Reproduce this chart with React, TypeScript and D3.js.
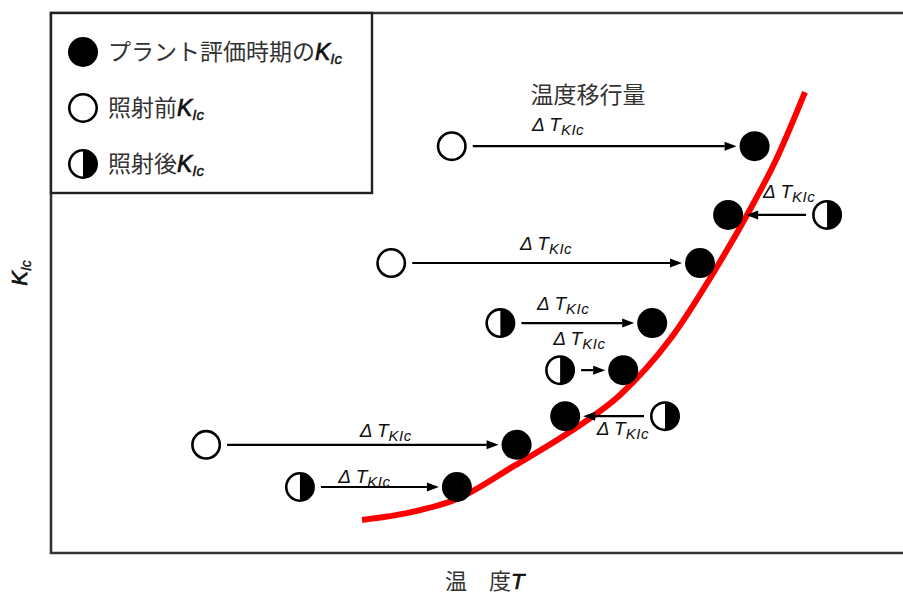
import React from "react";
import * as d3 from "d3";

const W = 903;
const H = 596;

// Schematic: temperature T (arbitrary 0-100) vs K_Ic (arbitrary 0-100)
const shiftK = [75.2, 62.5, 53.6, 42.5, 33.8, 25.3, 20.0, 12.2];
const startT = [47.1, 91.1, 40.0, 52.8, 59.8, 72.1, 18.3, 29.3];
const startType = ["open", "half", "open", "half", "half", "half", "open", "half"];
const endT = [82.6, 79.5, 76.2, 70.6, 67.2, 60.4, 54.7, 47.7];
// annotation anchors for the ΔT_KIc labels
const labelT = [56.5, 83.6, 55.1, 57.1, 59.0, 64.1, 36.3, 33.8];
const labelK = [78.0, 65.6, 56.0, 44.9, 38.4, 21.8, 21.4, 12.9];

// master curve
const curveT = [36.58, 42.2, 47.71, 54.51, 60.96, 66.82, 72.69, 78.08, 81.71, 84.99, 88.51];
const curveK = [6.1, 7.5, 10.0, 16.2, 22.4, 29.2, 39.5, 52.6, 62.48, 72.27, 85.21];

const legendLabels = ["プラント評価時期の", "照射前", "照射後"];
const legendTypes = ["filled", "open", "half"];

const CJK = "'Noto Sans CJK JP', 'Noto Sans', sans-serif";
const LAT = "'Liberation Sans', Arial, sans-serif";
const R = 15;

function Marker({ type, cx, cy }: { type: string; cx: number; cy: number }) {
  if (type === "filled") return <circle cx={cx} cy={cy} r={R} fill="#000" />;
  if (type === "open")
    return <circle cx={cx} cy={cy} r={R - 1.3} fill="#fff" stroke="#000" strokeWidth={2.6} />;
  const r = R - 1.3;
  return (
    <g>
      <circle cx={cx} cy={cy} r={r} fill="#fff" />
      <path d={`M${cx},${cy - r} A${r},${r} 0 0 1 ${cx},${cy + r} Z`} fill="#000" />
      <circle cx={cx} cy={cy} r={r} fill="none" stroke="#000" strokeWidth={2.6} />
    </g>
  );
}

function KIc({ size, sub }: { size: number; sub: number }) {
  return (
    <>
      <tspan fontFamily={LAT} fontStyle="italic" fontSize={size} fill="#111" stroke="#111" strokeWidth={0.7}>
        K
      </tspan>
      <tspan fontFamily={LAT} fontStyle="italic" fontSize={sub} dy={4} fill="#111" stroke="#111" strokeWidth={0.4}>
        Ic
      </tspan>
    </>
  );
}

export default function App() {
  const x = d3.scaleLinear().domain([0, 100]).range([50, 903]);
  const y = d3.scaleLinear().domain([0, 100]).range([553, 12]);

  const line = d3
    .line<number>()
    .x((_, i) => x(curveT[i]))
    .y((_, i) => y(curveK[i]))
    .curve(d3.curveMonotoneX);

  const x0 = x(0) + 1;
  const yTop = y(100) + 1;
  const yBot = y(0);

  return (
    <svg
      width={W}
      height={H}
      style={{ position: "absolute", left: 0, top: 0, background: "#fff" }}
    >
      {/* frame */}
      <path
        d={`M${W + 2},${yTop} H${x0} V${yBot} H${W + 2}`}
        fill="none"
        stroke="#333"
        strokeWidth={2.6}
      />

      {/* red curve */}
      <path d={line(curveT) || ""} fill="none" stroke="#ff0000" strokeWidth={6} />

      {/* arrows and markers */}
      {shiftK.map((k, i) => {
        const cy = y(k);
        const xs = x(startT[i]);
        const xe = x(endT[i]);
        const dir = xe > xs ? 1 : -1;
        const lineStart = xs + dir * (R + 6);
        const tip = xe - dir * (R + 3);
        const headLen = 12;
        const base = tip - dir * headLen;
        return (
          <g key={i}>
            <line x1={lineStart} y1={cy} x2={base} y2={cy} stroke="#000" strokeWidth={2.2} />
            <path
              d={`M${tip},${cy} L${base},${cy - 4.5} L${base},${cy + 4.5} Z`}
              fill="#000"
            />
            <Marker type={startType[i]} cx={xs} cy={cy} />
            <Marker type="filled" cx={xe} cy={cy} />
            <text
              x={x(labelT[i])}
              y={y(labelK[i])}
              fontFamily={LAT}
              fontStyle="italic"
              fontSize={19}
              fill="#111"
            >
              Δ T
              <tspan fontSize={15} dy={4} letterSpacing={0.5}>
                KIc
              </tspan>
            </text>
          </g>
        );
      })}

      {/* 温度移行量 */}
      <text x={588} y={103} textAnchor="middle" fontFamily={CJK} fontSize={23} fill="#333">
        温度移行量
      </text>

      {/* legend */}
      <rect x={x0} y={yTop} width={372 - x0} height={193 - yTop} fill="#fff" stroke="#222" strokeWidth={2.4} />
      {legendLabels.map((lab, i) => {
        const cy = [52, 108, 164][i];
        return (
          <g key={lab}>
            <Marker type={legendTypes[i]} cx={83} cy={cy} />
            <text x={108} y={cy + 8} fontFamily={CJK} fontSize={23} fill="#333">
              {lab}
              <tspan dx={3} />
              <KIc size={23} sub={15} />
            </text>
          </g>
        );
      })}

      {/* y axis label */}
      <text
        transform="translate(27,273) rotate(-90)"
        textAnchor="middle"
        fontFamily={LAT}
      >
        <KIc size={22} sub={14} />
      </text>

      {/* x axis label */}
      <text x={445} y={589} fontFamily={CJK} fontSize={22} fill="#333">
        温　度
        <tspan fontFamily={LAT} fontStyle="italic" fontSize={22} fill="#111" stroke="#111" strokeWidth={0.7}>
          T
        </tspan>
      </text>
    </svg>
  );
}
